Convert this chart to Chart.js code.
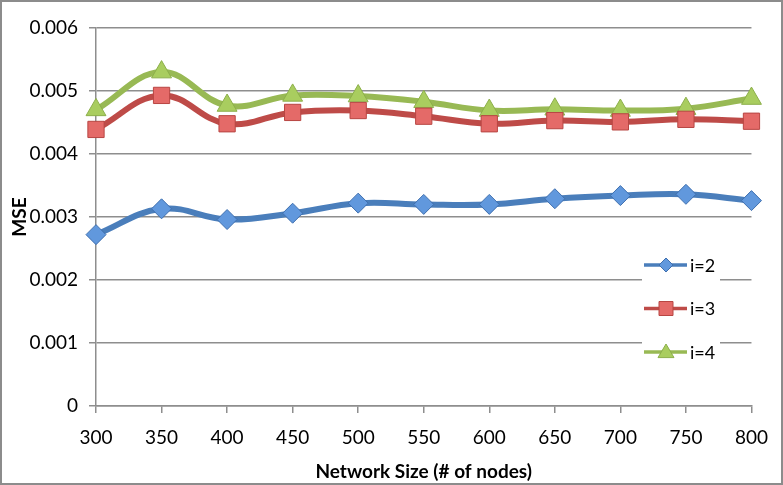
<!DOCTYPE html>
<html>
<head>
<meta charset="utf-8">
<script src="https://cdn.jsdelivr.net/npm/chart.js@4"></script>
<style>
    html, body { margin: 0; padding: 0; background: #fff; }
    #wrap { position: relative; width: 783px; height: 485px; box-sizing: border-box; border: 2px solid #8c8c8c; }
    canvas { display: block; }
</style>
</head>
<body>
<div id="wrap"><canvas id="mseChart" width="779" height="481"></canvas></div>
<script>
// network sizes on the x axis
const networkSizes = ["300", "350", "400", "450", "500", "550", "600", "650", "700", "750", "800"];
// MSE per series
const mseI2 = [0.00272, 0.00313, 0.00296, 0.00306, 0.00322, 0.00320, 0.00320, 0.00329, 0.00334, 0.00336, 0.00326];
const mseI3 = [0.00439, 0.00493, 0.00448, 0.00466, 0.00469, 0.00460, 0.00448, 0.00453, 0.00451, 0.00455, 0.00452];
const mseI4 = [0.00470, 0.00530, 0.00477, 0.00493, 0.00492, 0.00483, 0.00469, 0.00471, 0.00469, 0.00472, 0.00488];
const seriesLabels = ["i=2", "i=3", "i=4"];
const yTicks = [0, 0.001, 0.002, 0.003, 0.004, 0.005, 0.006];

const FONT = "Lato, 'Liberation Sans', sans-serif";
const GRID = "#8e8e8e";

function drawMarker(ctx, style, x, y, r) {
    ctx.beginPath();
    if (style === "rectRot") {
        ctx.moveTo(x, y - r); ctx.lineTo(x + r, y); ctx.lineTo(x, y + r); ctx.lineTo(x - r, y);
    } else if (style === "rect") {
        ctx.rect(x - r, y - r, 2 * r, 2 * r);
    } else {
        ctx.moveTo(x, y - r); ctx.lineTo(x + r, y + r * 0.7); ctx.lineTo(x - r, y + r * 0.7);
    }
    ctx.closePath();
    ctx.fill();
    ctx.stroke();
}

// legend sits inside the plot, so draw it by hand
const insideLegend = {
    id: "insideLegend",
    afterDraw(chart) {
        const ctx = chart.ctx;
        // canvas is offset 2px by the frame
        const x0 = 640, y0 = 250, rowH = 43.5;
        const markerR = [7, 7, 8];
        ctx.save();
        ctx.fillStyle = "#fff";
        ctx.fillRect(x0, y0, 78, 114);
        chart.data.datasets.forEach((ds, i) => {
            const y = y0 + 13 + i * rowH;
            ctx.strokeStyle = ds.borderColor;
            ctx.lineWidth = 3.5;
            ctx.beginPath();
            ctx.moveTo(x0 + 2, y);
            ctx.lineTo(x0 + 45, y);
            ctx.stroke();
            ctx.fillStyle = ds.pointBackgroundColor;
            ctx.strokeStyle = ds.pointBorderColor;
            ctx.lineWidth = 1;
            drawMarker(ctx, ds.pointStyle, x0 + 24, y, markerR[i]);
            ctx.fillStyle = "#000";
            ctx.font = "18px " + FONT;
            ctx.textBaseline = "middle";
            ctx.fillText(ds.label, x0 + 48, y + 1);
        });
        ctx.restore();
    }
};

window.onload = () => {
    const ctx = document.getElementById("mseChart").getContext("2d");
    new Chart(ctx, {
        type: "line",
        data: {
            labels: networkSizes,
            datasets: [
                { label: seriesLabels[0], data: mseI2, borderColor: "#4a7ebb", pointBackgroundColor: "#6198dd", pointBorderColor: "#3f6fae", pointStyle: "rectRot", pointRadius: 10 },
                { label: seriesLabels[1], data: mseI3, borderColor: "#be4b48", pointBackgroundColor: "#e46a68", pointBorderColor: "#b84643", pointStyle: "rect", pointRadius: 11.5 },
                { label: seriesLabels[2], data: mseI4, borderColor: "#98b954", pointBackgroundColor: "#a9cd5f", pointBorderColor: "#8caf4a", pointStyle: "triangle", pointRadius: 11.5 }
            ].map(ds => Object.assign(ds, {
                borderWidth: 6,
                tension: 0.4,
                fill: false,
                pointBorderWidth: 1,
                pointHoverRadius: ds.pointRadius
            }))
        },
        options: {
            responsive: false,
            animation: false,
            events: [],
            layout: { padding: { top: 26, right: 29, left: 6, bottom: 0 } },
            plugins: {
                legend: { display: false },
                tooltip: { enabled: false }
            },
            scales: {
                x: {
                    offset: false,
                    grid: { drawOnChartArea: false, drawTicks: true, tickLength: 7, color: GRID, lineWidth: 1.5 },
                    border: { color: GRID, width: 1.5 },
                    ticks: { color: "#000", font: { family: FONT, size: 19 }, padding: 13, maxRotation: 0 },
                    title: { display: true, text: "Network Size (# of nodes)", color: "#000", font: { family: FONT, size: 19, weight: "bold" }, padding: { top: 2, bottom: 0 } },
                    afterFit(scale) { scale.height = 77; }
                },
                y: {
                    min: 0,
                    max: 0.006,
                    afterBuildTicks(scale) { scale.ticks = yTicks.map(v => ({ value: v })); },
                    grid: { color: GRID, lineWidth: 1.5, tickLength: 7 },
                    border: { color: GRID, width: 1.5 },
                    ticks: {
                        color: "#000",
                        font: { family: FONT, size: 19 },
                        padding: 11,
                        callback: v => v === 0 ? "0" : v.toFixed(3)
                    },
                    title: { display: true, text: "MSE", color: "#000", font: { family: FONT, size: 19, weight: "bold" }, padding: { top: 0, bottom: 0 } },
                    afterFit(scale) { scale.width = 88; }
                }
            }
        },
        plugins: [insideLegend]
    });
};
</script>
</body>
</html>
